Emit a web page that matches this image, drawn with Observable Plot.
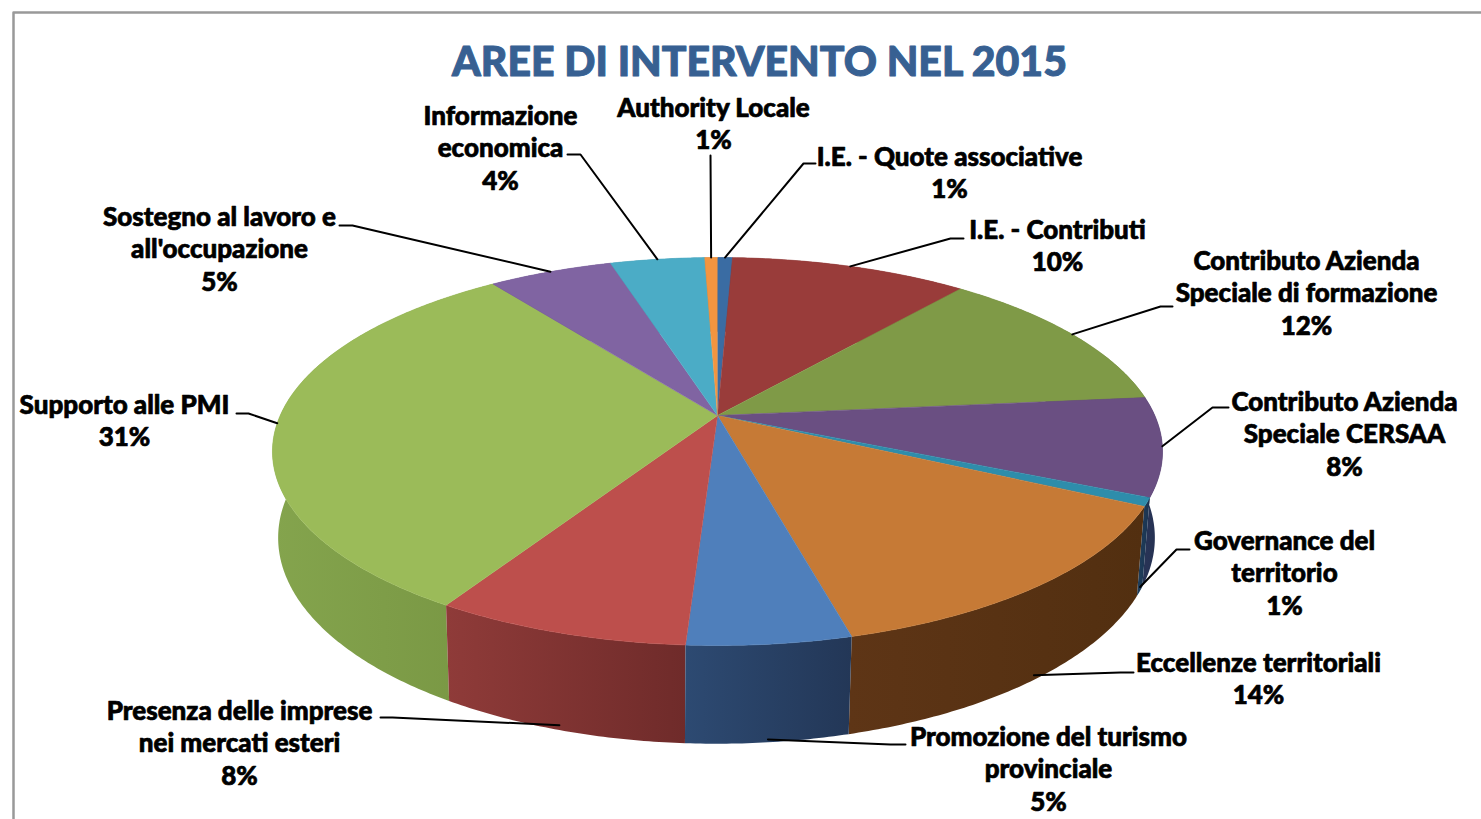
<!DOCTYPE html>
<html><head><meta charset="utf-8">
<style>html,body{margin:0;padding:0;background:#fff;overflow:hidden}svg{display:block}</style>
<script src="https://cdn.jsdelivr.net/npm/d3@7"></script>
<script src="https://cdn.jsdelivr.net/npm/@observablehq/plot@0.6"></script>
</head><body><div id="chart"></div>
<script>
const chartTitle = "AREE DI INTERVENTO NEL 2015";
const categories = ["I.E. - Quote associative","I.E. - Contributi","Contributo Azienda\nSpeciale di formazione","Contributo Azienda\nSpeciale CERSAA","Governance del\nterritorio","Eccellenze territoriali","Promozione del turismo\nprovinciale","Presenza delle imprese\nnei mercati esteri","Supporto alle PMI","Sostegno al lavoro e\nall'occupazione","Informazione\neconomica","Authority Locale"];
const shares = [0.65,10.3,12.5,8.2,0.7,13.6,5,7.8,31.2,5.4,4.1,0.55];
const percentLabels = ["1%","10%","12%","8%","1%","14%","5%","8%","31%","5%","4%","1%"];
const topColors = ["#3a6ca3","#993c3a","#7f9a47","#6a4f82","#2e8dab","#c67a36","#4f7fbb","#bd4f4c","#9bbb59","#8064a2","#4bacc6","#f39540"];
const wallFrom = ["#2c4a70","#6e2b2a","#5c7034","#2a3558","#1f3f5c","#5e3516","#2d4a72","#8f3b39","#84a44d","#5c4876","#358095","#b36b2f"];
const wallTo   = ["#2c4a70","#6e2b2a","#5c7034","#243050","#1b3350","#522f10","#233757","#6f2b2a","#789643","#5c4876","#358095","#b36b2f"];
// label placement: text centre, first-line y, elbow point, end point near the label, how far down the wall the leader ends
const labelX = [949,1057,1306,1344,1284,1258,1048,239,124,219,500,713];
const labelY = [157,230,261,402,541,663,737,711,405,217,116,108];
const elbowX = [803,950,1160,1212,1176,1120,890,392,248,352,580,710];
const elbowY = [163,238,306,407,549,672,744,717,413,225,154,155];
const endX   = [815,963,1172,1228,1189,1133,905,380,236,339,567,710];
const wallT  = [0,0,0,0,0.95,0.95,0.97,0.95,0,0,0,0];

// perspective pie model
const apexX = 717, apexY = 415, rimQ = 437.3, rimP = 187.3, rimC = -0.1856;
const top3d = a => {
  const u = Math.sin(a), v = -Math.cos(a), d = 1 + rimC * v;
  return {x: apexX + rimQ * u / d, y: apexY + rimP * v / d};
};
const bottom3d = a => {
  const t = top3d(a);
  return {x: apexX - 1 + 0.985 * (t.x - apexX), y: apexY + 1.062 * (t.y - apexY) + 84};
};
const total = d3.sum(shares);
let acc = 0;
const slices = shares.map((s, i) => {
  const a0 = acc / total * 2 * Math.PI; acc += s;
  const a1 = acc / total * 2 * Math.PI;
  return {i, a0, a1, mid: (a0 + a1) / 2};
});
const arc = (s, fn) => {
  const n = Math.max(3, Math.ceil((s.a1 - s.a0) / 0.01));
  return d3.range(n + 1).map(k => fn(s.a0 + (s.a1 - s.a0) * k / n));
};

const defs = () => {
  const svgNS = "http://www.w3.org/2000/svg";
  const g = document.createElementNS(svgNS, "defs");
  slices.forEach(s => {
    const lg = document.createElementNS(svgNS, "linearGradient");
    lg.setAttribute("id", "wall" + s.i);
    [[0, wallFrom[s.i]], [1, wallTo[s.i]]].forEach(([o, c]) => {
      const st = document.createElementNS(svgNS, "stop");
      st.setAttribute("offset", o); st.setAttribute("stop-color", c);
      lg.appendChild(st);
    });
    g.appendChild(lg);
  });
  return g;
};

const wallOrder = [...slices].sort((a, b) => Math.cos(b.mid) - Math.cos(a.mid));
const wallMarks = wallOrder.map(s => Plot.line(
  [...arc(s, top3d), ...arc(s, bottom3d).reverse()],
  {x: "x", y: "y", fill: `url(#wall${s.i})`, stroke: "none"}));
const topMarks = slices.map(s => Plot.line(
  [{x: apexX, y: apexY}, ...arc(s, top3d)],
  {x: "x", y: "y", fill: topColors[s.i], stroke: topColors[s.i], strokeWidth: 0.6}));

const leaderMarks = slices.map(s => {
  const t = top3d(s.mid), b = bottom3d(s.mid), w = wallT[s.i];
  return Plot.line([
    {x: t.x + (b.x - t.x) * w, y: t.y + (b.y - t.y) * w},
    {x: elbowX[s.i], y: elbowY[s.i]},
    {x: endX[s.i], y: elbowY[s.i]}
  ], {x: "x", y: "y", stroke: "#000", strokeWidth: 2});
});

const labelRows = slices.map(s => ({
  x: labelX[s.i], y: labelY[s.i], text: categories[s.i] + "\n" + percentLabels[s.i]
}));

const plot = Plot.plot({
  width: 1481, height: 819, margin: 0,
  x: {domain: [0, 1481], range: [0, 1481], axis: null},
  y: {domain: [0, 819], range: [0, 819], axis: null},
  style: {background: "#fff"},
  marks: [
    defs,
    Plot.line([{x: 13, y: 819}, {x: 13, y: 12}, {x: 1481, y: 12}], {x: "x", y: "y", stroke: "#999", strokeWidth: 2.5}),
    ...wallMarks,
    ...topMarks,
    ...leaderMarks,
    Plot.text(labelRows, {
      x: "x", y: "y", text: "text", dy: -15, lineAnchor: "top", textAnchor: "middle",
      lineHeight: 1.25, fontFamily: "Lato", fontWeight: 900, fontSize: 26, fill: "#000", stroke: "#000", strokeWidth: 0.7
    }),
    Plot.text([chartTitle], {
      x: () => 759, y: () => 62, text: d => d, textAnchor: "middle", lineAnchor: "middle",
      fontFamily: "Lato", fontWeight: 900, fontSize: 41, fill: "#376092", stroke: "#376092", strokeWidth: 1
    })
  ]
});
document.getElementById("chart").appendChild(plot);
</script></body></html>
